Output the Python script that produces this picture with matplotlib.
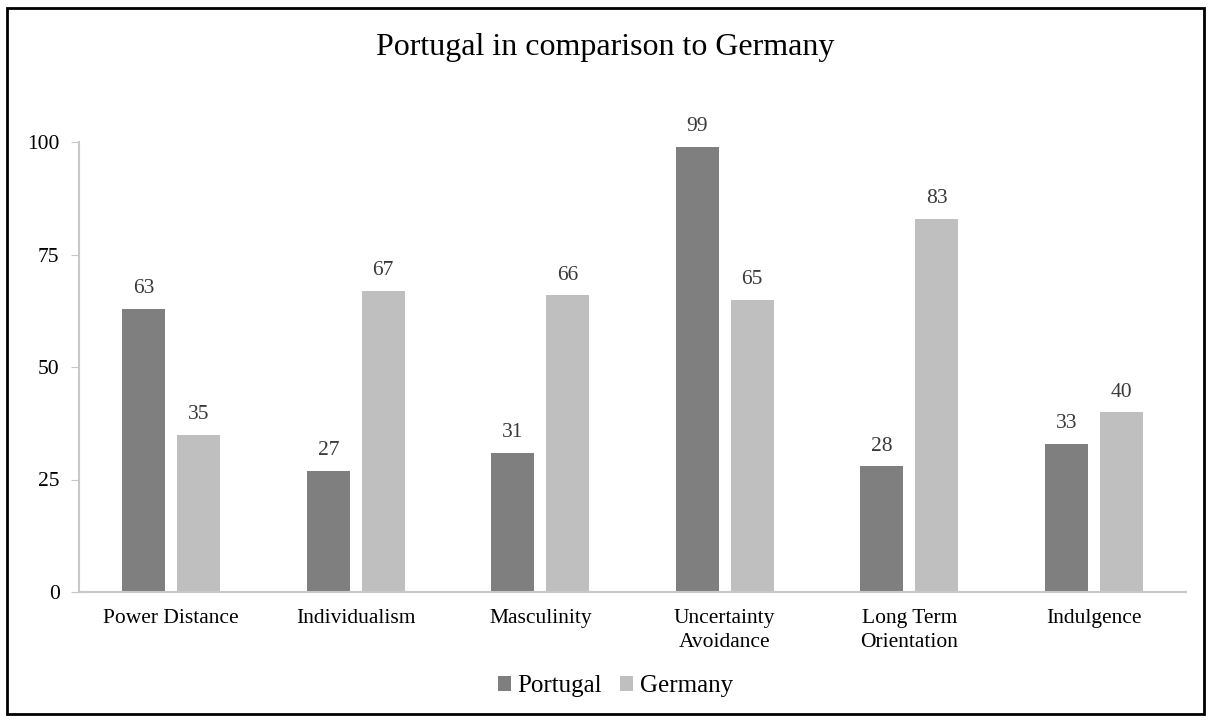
import numpy as np
import matplotlib.pyplot as plt
from matplotlib.patches import Rectangle

plt.rcParams['font.family'] = ['Liberation Serif', 'DejaVu Serif']

categories = ['Power Distance', 'Individualism', 'Masculinity',
              'Uncertainty\nAvoidance', 'Long Term\nOrientation', 'Indulgence']
portugal = [63, 27, 31, 99, 28, 33]
germany = [35, 67, 66, 65, 83, 40]

dark = '#7f7f7f'
light = '#bfbfbf'
axcol = '#c8c8c8'

fig = plt.figure(figsize=(12.11, 7.22), dpi=100)
ax = fig.add_axes([79/1211, 1 - 592/722, (1186-79)/1211, 450/722])

x = np.arange(len(categories))
w = 0.233
off = (w + 0.065) / 2
b1 = ax.bar(x - off, portugal, w, color=dark, label='Portugal')
b2 = ax.bar(x + off, germany, w, color=light, label='Germany')

for bars, vals in ((b1, portugal), (b2, germany)):
    for r, v in zip(bars, vals):
        ax.text(r.get_x() + r.get_width()/2, v + 2.3, str(v),
                ha='center', va='bottom', fontsize=15.5, color='#3a3a3a')

ax.set_xlim(-0.5, len(categories) - 0.5)
ax.set_ylim(0, 100)
ax.set_yticks([0, 25, 50, 75, 100])
ax.set_xticks(x)
ax.set_xticklabels(categories, fontsize=15.5, linespacing=1.4, va='top')
ax.tick_params(axis='y', labelsize=15.5, length=6, color=axcol, pad=8)
ax.tick_params(axis='x', length=0, pad=12)
for s in ('top', 'right'):
    ax.spines[s].set_visible(False)
for s in ('left', 'bottom'):
    ax.spines[s].set_color(axcol)
    ax.spines[s].set_linewidth(1.5)

fig.text(0.5, 1 - 47/722, 'Portugal in comparison to Germany',
         ha='center', va='center', fontsize=23)

fig.legend(handles=[b1, b2], loc='center', bbox_to_anchor=(0.508, 1 - 686/722),
           ncol=2, frameon=False, fontsize=18, handlelength=0.55, handleheight=0.55,
           handletextpad=0.25, columnspacing=0.7)

fig.patches.append(Rectangle((7/1211, 8/722), 1197/1211, 706/722,
                             transform=fig.transFigure, fill=False,
                             edgecolor='black', linewidth=2))

fig.savefig('out.png', dpi=100)
